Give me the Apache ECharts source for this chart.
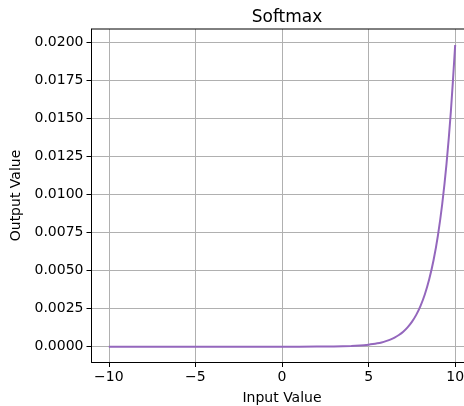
<!DOCTYPE html>
<html>
<head>
<meta charset="utf-8">
<script src="https://cdn.jsdelivr.net/npm/echarts@6.0.0/dist/echarts.min.js"></script>
<style>
  html, body { margin: 0; padding: 0; background: #fff; }
  #chart { width: 464px; height: 406px; }
</style>
</head>
<body>
<div id="chart"></div>
<script>
// values
const inputValues = [-10, -5, 0, 2, 3, 4, 4.5, 5, 5.25, 5.5, 5.75, 6, 6.25, 6.5, 6.75, 7, 7.25, 7.5, 7.75, 8, 8.25, 8.5, 8.75, 9, 9.25, 9.5, 9.75, 10];
const outputValues = [0, 0, 0, 0.000007, 0.000018, 0.000049, 0.000081, 0.000133, 0.000171, 0.00022, 0.000282, 0.000363, 0.000466, 0.000598, 0.000768, 0.000986, 0.00127, 0.00163, 0.00209, 0.00268, 0.00344, 0.00442, 0.00567, 0.00728, 0.00935, 0.01201, 0.01542, 0.0198];
const xTicks = [-10, -5, 0, 5, 10];
const yTicks = [0, 0.0025, 0.005, 0.0075, 0.01, 0.0125, 0.015, 0.0175, 0.02];

const font = "DejaVu Sans";
const chart = echarts.init(document.getElementById("chart"), null, { renderer: "canvas" });

const points = inputValues.map((x, i) => [x, outputValues[i]]);

chart.setOption({
    animation: false,
    backgroundColor: "#fff",
    title: {
        text: "Softmax", left: 282, top: 4, textAlign: "center",
        textStyle: { fontFamily: font, fontSize: 17, fontWeight: "normal", color: "#000" }
    },
    // the reference is cut off at the right edge, so the plot runs past the canvas border
    grid: { left: 91.5, top: 29, width: 381, height: 333, containLabel: false, outerBoundsMode: "none" },
    xAxis: {
        type: "value", min: -11, max: 11,
        name: "Input Value", nameLocation: "middle", nameGap: 29,
        nameTextStyle: { fontFamily: font, fontSize: 14, color: "#000" },
        axisLine: { onZero: false, lineStyle: { color: "#000", width: 1 } },
        axisTick: { show: true, length: 5, customValues: xTicks, lineStyle: { color: "#000" } },
        axisLabel: { customValues: xTicks, margin: 8, fontFamily: font, fontSize: 14, color: "#000",
            formatter: v => String(v).replace("-", "\u2212") },
        splitLine: { show: true, lineStyle: { color: "#b0b0b0", width: 1 } }
    },
    yAxis: {
        type: "value", min: -0.001004, max: 0.020853,
        name: "Output Value", nameLocation: "middle", nameGap: 60,
        nameTextStyle: { fontFamily: font, fontSize: 14, color: "#000" },
        axisLine: { show: true, onZero: false, lineStyle: { color: "#000", width: 1 } },
        axisTick: { show: true, length: 5, customValues: yTicks, lineStyle: { color: "#000" } },
        axisLabel: { customValues: yTicks, margin: 8, fontFamily: font, fontSize: 14, color: "#000",
            formatter: v => v.toFixed(4) },
        splitLine: { show: true, lineStyle: { color: "#b0b0b0", width: 1 } }
    },
    graphic: [
        { type: "line", shape: { x1: 91.5, y1: 29, x2: 464, y2: 29 }, style: { stroke: "#000", lineWidth: 1 }, z: 10 }
    ],
    series: [{
        type: "line", data: points, showSymbol: false,
        smooth: 0.3,
        lineStyle: { color: "#9467bd", width: 2 }
    }]
});
</script>
</body>
</html>
